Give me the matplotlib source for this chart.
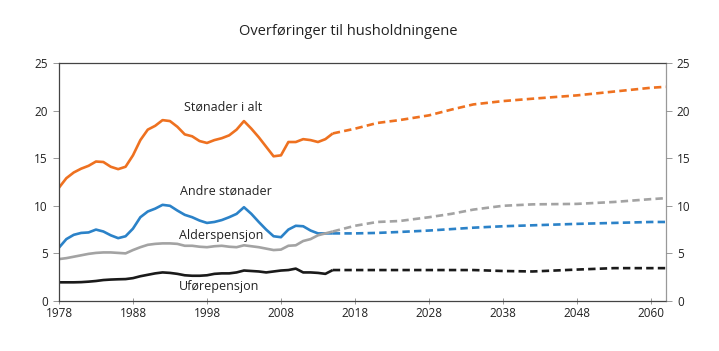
import matplotlib
matplotlib.use('Agg')
import matplotlib.pyplot as plt

plt.rcParams['font.family'] = ['Open Sans', 'DejaVu Sans']

# historical years (solid) and projection years (dashed)
years_hist = list(range(1978, 2016))
years_proj = [2015, 2018, 2021, 2024, 2028, 2031, 2034, 2038, 2042, 2048, 2053, 2058, 2060]

stonader_hist = [11.9, 12.9, 13.5, 13.9, 14.2, 14.65, 14.6, 14.1, 13.85, 14.1,
                 15.3, 16.9, 18.0, 18.4, 19.0, 18.9, 18.3, 17.5, 17.3, 16.8,
                 16.6, 16.9, 17.1, 17.4, 18.0, 18.9, 18.1, 17.2, 16.2, 15.2,
                 15.3, 16.7, 16.7, 17.0, 16.9, 16.7, 17.0, 17.6]
stonader_proj = [17.6, 18.1, 18.7, 19.0, 19.5, 20.1, 20.65, 21.0, 21.25, 21.6, 22.0, 22.4, 22.5]

andre_hist = [5.6, 6.5, 6.95, 7.15, 7.2, 7.5, 7.3, 6.9, 6.6, 6.8,
              7.6, 8.8, 9.4, 9.7, 10.1, 10.0, 9.5, 9.05, 8.8, 8.45,
              8.2, 8.3, 8.5, 8.8, 9.15, 9.85, 9.15, 8.3, 7.5, 6.8,
              6.7, 7.5, 7.9, 7.85, 7.4, 7.1, 7.1, 7.1]
andre_proj = [7.1, 7.1, 7.15, 7.25, 7.4, 7.55, 7.7, 7.85, 7.95, 8.1, 8.2, 8.3, 8.3]

alder_hist = [4.4, 4.5, 4.65, 4.8, 4.95, 5.05, 5.1, 5.1, 5.05, 5.0,
              5.35, 5.65, 5.9, 6.0, 6.05, 6.05, 6.0, 5.8, 5.8, 5.7,
              5.65, 5.75, 5.8, 5.7, 5.65, 5.85, 5.75, 5.65, 5.5, 5.35,
              5.4, 5.8, 5.85, 6.3, 6.5, 6.9, 7.1, 7.3]
alder_proj = [7.3, 7.9, 8.3, 8.4, 8.8, 9.15, 9.6, 10.0, 10.15, 10.2, 10.4, 10.7, 10.8]

ufore_hist = [1.96, 1.96, 1.96, 1.98, 2.03, 2.1, 2.2, 2.25, 2.28, 2.3,
              2.4, 2.6, 2.75, 2.9, 3.0, 2.95, 2.85, 2.7, 2.65, 2.65,
              2.7, 2.85, 2.9, 2.9, 3.0, 3.2, 3.15, 3.1, 3.0, 3.1,
              3.2, 3.25, 3.4, 3.0, 3.0, 2.95, 2.85, 3.25]
ufore_proj = [3.25, 3.25, 3.25, 3.25, 3.25, 3.25, 3.25, 3.15, 3.1, 3.3, 3.45, 3.45, 3.45]

xticks = [1978, 1988, 1998, 2008, 2018, 2028, 2038, 2048, 2058]
xticklabels = ['1978', '1988', '1998', '2008', '2018', '2028', '2038', '2048', '2060']
yticks = [0, 5, 10, 15, 20, 25]

series = [
    (stonader_hist, stonader_proj, '#EE7120', 'Stønader i alt', 2000.2, 20.4),
    (andre_hist, andre_proj, '#2B82C8', 'Andre stønader', 2000.6, 11.5),
    (alder_hist, alder_proj, '#A3A3A3', 'Alderspensjon', 1999.9, 6.9),
    (ufore_hist, ufore_proj, '#1A1A1A', 'Uførepensjon', 1999.6, 1.5),
]

fig = plt.figure(figsize=(7.19, 3.51), dpi=100)
ax = fig.add_axes([0.082, 0.1425, 0.844, 0.678])

for hist, proj, color, label, lx, ly in series:
    ax.plot(years_hist, hist, color=color, lw=1.9, solid_capstyle='butt')
    ax.plot(years_proj, proj, color=color, lw=1.9, dashes=(2.8, 1.6))
    ax.text(lx, ly, label, ha='center', va='center', fontsize=9, color='#222222')

ax.set_xlim(1978, 2060)
ax.set_ylim(0, 25)
ax.set_xticks(xticks)
ax.set_xticklabels(xticklabels)
ax.set_yticks(yticks)
ax.tick_params(axis='x', direction='inout', length=4, width=0.6, color='#888888',
               labelsize=8.5, pad=2, labelcolor='#222222')
ax.tick_params(axis='y', direction='out', length=4, width=0.6, color='#888888',
               labelsize=8.5, pad=4, labelcolor='#222222')
for s in ['left', 'bottom', 'top']:
    ax.spines[s].set_color('#444444')
    ax.spines[s].set_linewidth(0.9)
ax.spines['right'].set_color('#999999')
ax.spines['right'].set_linewidth(0.9)

ax2 = ax.twinx()
ax2.set_ylim(0, 25)
ax2.set_yticks(yticks)
ax2.tick_params(axis='y', direction='out', length=4, width=0.6, color='#888888',
                labelsize=8.5, pad=4, labelcolor='#222222')
for s in ax2.spines.values():
    s.set_visible(False)

fig.text(0.484, 0.91, 'Overføringer til husholdningene', ha='center', va='center',
         fontsize=10.5, color='#222222')

fig.savefig('out.png', dpi=100)
